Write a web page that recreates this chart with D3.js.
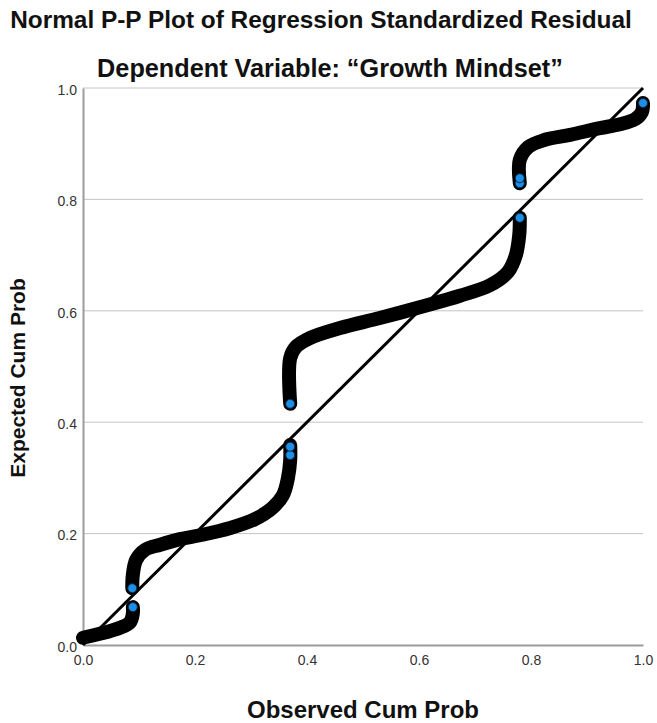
<!DOCTYPE html>
<html>
<head>
<meta charset="utf-8">
<script src="https://cdn.jsdelivr.net/npm/d3@7"></script>
<style>
  body { margin: 0; background: #fff; }
  text { font-family: "Liberation Sans", Arial, sans-serif; }
</style>
</head>
<body>
<div id="chart"></div>
<script>
// Tick values shared by both axes
var tickValues = [0.0, 0.2, 0.4, 0.6, 0.8, 1.0];

// Residual groups: [observed cum prob, expected cum prob]
var group1 = [
  [0.000, 0.013], [0.030, 0.020], [0.066, 0.031], [0.084, 0.041],
  [0.089, 0.056], [0.089, 0.068]
];
var group2 = [
  [0.088, 0.102], [0.089, 0.126], [0.095, 0.153], [0.111, 0.171],
  [0.138, 0.180], [0.173, 0.190], [0.209, 0.197], [0.263, 0.210],
  [0.307, 0.226], [0.338, 0.246], [0.357, 0.269], [0.366, 0.300],
  [0.370, 0.332], [0.370, 0.359]
];
var group3 = [
  [0.370, 0.433], [0.370, 0.515], [0.380, 0.535], [0.405, 0.551],
  [0.459, 0.569], [0.530, 0.587], [0.611, 0.609], [0.673, 0.627],
  [0.727, 0.646], [0.759, 0.670], [0.773, 0.700], [0.779, 0.736],
  [0.780, 0.767]
];
var group4 = [
  [0.780, 0.829], [0.780, 0.871], [0.795, 0.894], [0.825, 0.907],
  [0.870, 0.916], [0.923, 0.928], [0.959, 0.935], [0.986, 0.944],
  [0.998, 0.957], [1.000, 0.973]
];
var groups = [group1, group2, group3, group4];

// Points at the group ends where the blue marker shows through
var endPoints = [
  [0.089, 0.068], [0.088, 0.102], [0.370, 0.341], [0.370, 0.356],
  [0.370, 0.433], [0.780, 0.767], [0.780, 0.829], [0.780, 0.838],
  [1.000, 0.973]
];

// Dimensions
var W = 657, H = 723;
var margin = { top: 88, right: 14, bottom: 78, left: 83 };
var width = W - margin.left - margin.right;
var height = H - margin.top - margin.bottom;

var svg = d3.select("#chart")
  .append("svg")
  .attr("width", W)
  .attr("height", H);

var g = svg.append("g")
  .attr("transform", "translate(" + margin.left + "," + margin.top + ")");

var xScale = d3.scaleLinear().domain([0, 1]).range([0, width]);
var yScale = d3.scaleLinear().domain([0, 1]).range([height, 0]);

// Horizontal gridlines
g.selectAll(".grid")
  .data(tickValues.filter(function(d) { return d > 0; }))
  .enter().append("line")
  .attr("class", "grid")
  .attr("x1", 0)
  .attr("x2", width)
  .attr("y1", function(d) { return yScale(d); })
  .attr("y2", function(d) { return yScale(d); })
  .attr("stroke", "#c4c4c4")
  .attr("stroke-width", 1);

// Axes, no tick marks
var xAxis = g.append("g")
  .attr("transform", "translate(0," + height + ")")
  .call(d3.axisBottom(xScale).tickValues(tickValues).tickSize(0).tickPadding(10)
    .tickFormat(d3.format(".1f")));

var yAxis = g.append("g")
  .call(d3.axisLeft(yScale).tickValues(tickValues).tickSize(0).tickPadding(6)
    .tickFormat(d3.format(".1f")));

[xAxis, yAxis].forEach(function(ax) {
  ax.select(".domain").attr("stroke", "#9c9c9c").attr("stroke-width", 2);
  ax.selectAll("text")
    .attr("fill", "#333")
    .style("font-size", "14px")
    .style("font-family", "'Liberation Sans', Arial, sans-serif");
});
yAxis.selectAll("text").attr("dy", "0.45em");

// Reference line y = x
g.append("line")
  .attr("x1", xScale(0))
  .attr("y1", yScale(0))
  .attr("x2", xScale(1))
  .attr("y2", yScale(1))
  .attr("stroke", "#000")
  .attr("stroke-width", 3);

// Dense residual points drawn as thick black bands
var line = d3.line()
  .x(function(d) { return xScale(d[0]); })
  .y(function(d) { return yScale(d[1]); })
  .curve(d3.curveCatmullRom.alpha(0.5));

g.selectAll(".band")
  .data(groups)
  .enter().append("path")
  .attr("class", "band")
  .attr("d", line)
  .attr("fill", "none")
  .attr("stroke", "#000")
  .attr("stroke-width", 14)
  .attr("stroke-linecap", "round")
  .attr("stroke-linejoin", "round");

g.selectAll(".pt")
  .data(endPoints)
  .enter().append("circle")
  .attr("class", "pt")
  .attr("cx", function(d) { return xScale(d[0]); })
  .attr("cy", function(d) { return yScale(d[1]); })
  .attr("r", 4.5)
  .attr("fill", "#1e8fe6")
  .attr("stroke", "#0a2a44")
  .attr("stroke-width", 1);

// Fit a text element to a target width by changing its font size
function fitText(sel, target) {
  var size = parseFloat(sel.style("font-size"));
  var w = sel.node().getComputedTextLength();
  sel.style("font-size", (size * target / w) + "px");
}

var title = svg.append("text")
  .attr("x", 321)
  .attr("y", 28)
  .attr("text-anchor", "middle")
  .attr("fill", "#111")
  .style("font-weight", "bold")
  .style("font-size", "20px")
  .text("Normal P-P Plot of Regression Standardized Residual");
fitText(title, 622);

var subtitle = svg.append("text")
  .attr("x", 330)
  .attr("y", 77)
  .attr("text-anchor", "middle")
  .attr("fill", "#111")
  .style("font-weight", "bold")
  .style("font-size", "20px")
  .text("Dependent Variable: \u201cGrowth Mindset\u201d");
fitText(subtitle, 466);

// Axis titles centred on the plot area
svg.append("text")
  .attr("x", margin.left + width / 2)
  .attr("y", 718)
  .attr("text-anchor", "middle")
  .attr("fill", "#111")
  .style("font-weight", "bold")
  .style("font-size", "24px")
  .text("Observed Cum Prob");

svg.append("text")
  .attr("transform", "translate(25,378) rotate(-90)")
  .attr("text-anchor", "middle")
  .attr("fill", "#111")
  .style("font-weight", "bold")
  .style("font-size", "21px")
  .text("Expected Cum Prob");
</script>
</body>
</html>
